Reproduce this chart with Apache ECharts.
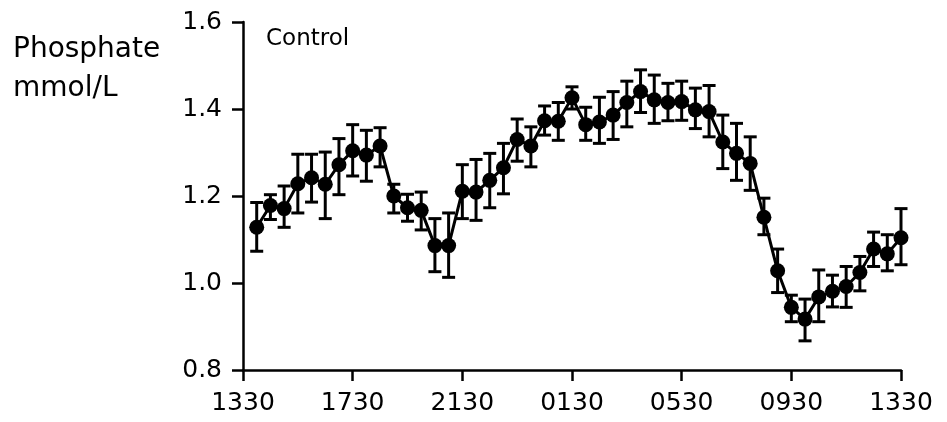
<!DOCTYPE html>
<html>
<head>
<meta charset="utf-8">
<script src="https://cdn.jsdelivr.net/npm/echarts@6/dist/echarts.min.js"></script>
<style>html,body{margin:0;padding:0;background:#fff;}#c{width:947px;height:422px;}</style>
</head>
<body>
<div id="c"></div>
<script>
// Sample times (clock labels), 30-min samples from 1400 to 1330 next day
var times = ['1400','1430','1500','1530','1600','1630','1700','1730','1800','1830','1900','1930','2000','2030','2100','2130','2200','2230','2300','2330','0000','0030','0100','0130','0200','0230','0300','0330','0400','0430','0500','0530','0600','0630','0700','0730','0800','0830','0900','0930','1000','1030','1100','1130','1200','1230','1300','1330'];
var meanValues = [1.128,1.178,1.171,1.228,1.242,1.227,1.272,1.304,1.294,1.315,1.200,1.173,1.167,1.086,1.086,1.211,1.209,1.236,1.265,1.330,1.315,1.373,1.372,1.426,1.364,1.370,1.386,1.415,1.440,1.421,1.415,1.417,1.398,1.394,1.324,1.298,1.275,1.151,1.028,0.944,0.917,0.968,0.981,0.992,1.024,1.078,1.067,1.104];
var upperValues = [1.185,1.203,1.223,1.296,1.296,1.301,1.332,1.364,1.351,1.357,1.227,1.204,1.209,1.148,1.161,1.272,1.284,1.298,1.321,1.377,1.359,1.407,1.415,1.451,1.404,1.427,1.440,1.464,1.490,1.478,1.459,1.464,1.448,1.454,1.386,1.367,1.336,1.195,1.078,0.972,0.963,1.030,1.018,1.038,1.061,1.117,1.111,1.171];
var lowerValues = [1.073,1.146,1.128,1.161,1.186,1.148,1.203,1.246,1.234,1.267,1.161,1.142,1.122,1.026,1.013,1.148,1.144,1.173,1.205,1.280,1.267,1.340,1.328,1.400,1.328,1.321,1.330,1.359,1.392,1.367,1.373,1.374,1.355,1.336,1.263,1.236,1.213,1.111,0.978,0.911,0.867,0.911,0.945,0.944,0.982,1.038,1.028,1.042];
var xTickLabels = ['1330','1730','2130','0130','0530','0930','1330'];
var yTickLabels = ['0.8','1.0','1.2','1.4','1.6'];

// hours elapsed since 1330 on day 1
function hoursSinceStart(t){
  var h = parseInt(t.slice(0,2),10), m = parseInt(t.slice(2),10);
  var v = h + m/60 - 13.5;
  if (v <= 0) v += 24;
  return v;
}
var xs = times.map(hoursSinceStart);
var lineData = xs.map(function(x,i){ return [x, meanValues[i]]; });
var errData = xs.map(function(x,i){ return [x, lowerValues[i], upperValues[i]]; });

var font = 'DejaVu Sans';
var chart = echarts.init(document.getElementById('c'), null, {renderer:'canvas'});
chart.setOption({
  animation:false,
  backgroundColor:'#ffffff',
  grid:{left:243, right:46, top:22, bottom:52},
  xAxis:{
    type:'value', min:0, max:24, interval:4,
    axisLine:{lineStyle:{color:'#000', width:2.5}},
    axisTick:{show:true, length:11, lineStyle:{color:'#000', width:2.5}},
    splitLine:{show:false},
    axisLabel:{color:'#000', fontFamily:font, fontSize:25, margin:21,
      formatter:function(v){ return xTickLabels[Math.round(v/4)]; }}
  },
  yAxis:{
    type:'value', min:0.8, max:1.6, interval:0.2,
    axisLine:{show:true, lineStyle:{color:'#000', width:2.5}},
    axisTick:{show:true, length:11, lineStyle:{color:'#000', width:2.5}},
    splitLine:{show:false},
    axisLabel:{color:'#000', fontFamily:font, fontSize:25, margin:21,
      formatter:function(v){ return yTickLabels[Math.round((v-0.8)/0.2)]; }}
  },
  graphic:[
    {type:'text', left:13, top:36, style:{text:'Phosphate', fontFamily:font, fontSize:28, fill:'#000'}},
    {type:'text', left:13, top:75, style:{text:'mmol/L', fontFamily:font, fontSize:28, fill:'#000'}},
    {type:'text', left:266, top:28, style:{text:'Control', fontFamily:font, fontSize:23, fill:'#000'}}
  ],
  series:[
    {
      type:'custom',
      data:errData,
      z:3,
      renderItem:function(params, api){
        var x = api.value(0);
        var lo = api.coord([x, api.value(1)]);
        var hi = api.coord([x, api.value(2)]);
        var hw = 6.5;
        var st = {stroke:'#000', lineWidth:3};
        return {type:'group', children:[
          {type:'line', shape:{x1:lo[0], y1:lo[1], x2:hi[0], y2:hi[1]}, style:st},
          {type:'line', shape:{x1:hi[0]-hw, y1:hi[1], x2:hi[0]+hw, y2:hi[1]}, style:st},
          {type:'line', shape:{x1:lo[0]-hw, y1:lo[1], x2:lo[0]+hw, y2:lo[1]}, style:st}
        ]};
      }
    },
    {
      type:'line',
      data:lineData,
      z:4,
      symbol:'circle', symbolSize:15,
      lineStyle:{color:'#000', width:3},
      itemStyle:{color:'#000'}
    }
  ]
});
</script>
</body>
</html>
